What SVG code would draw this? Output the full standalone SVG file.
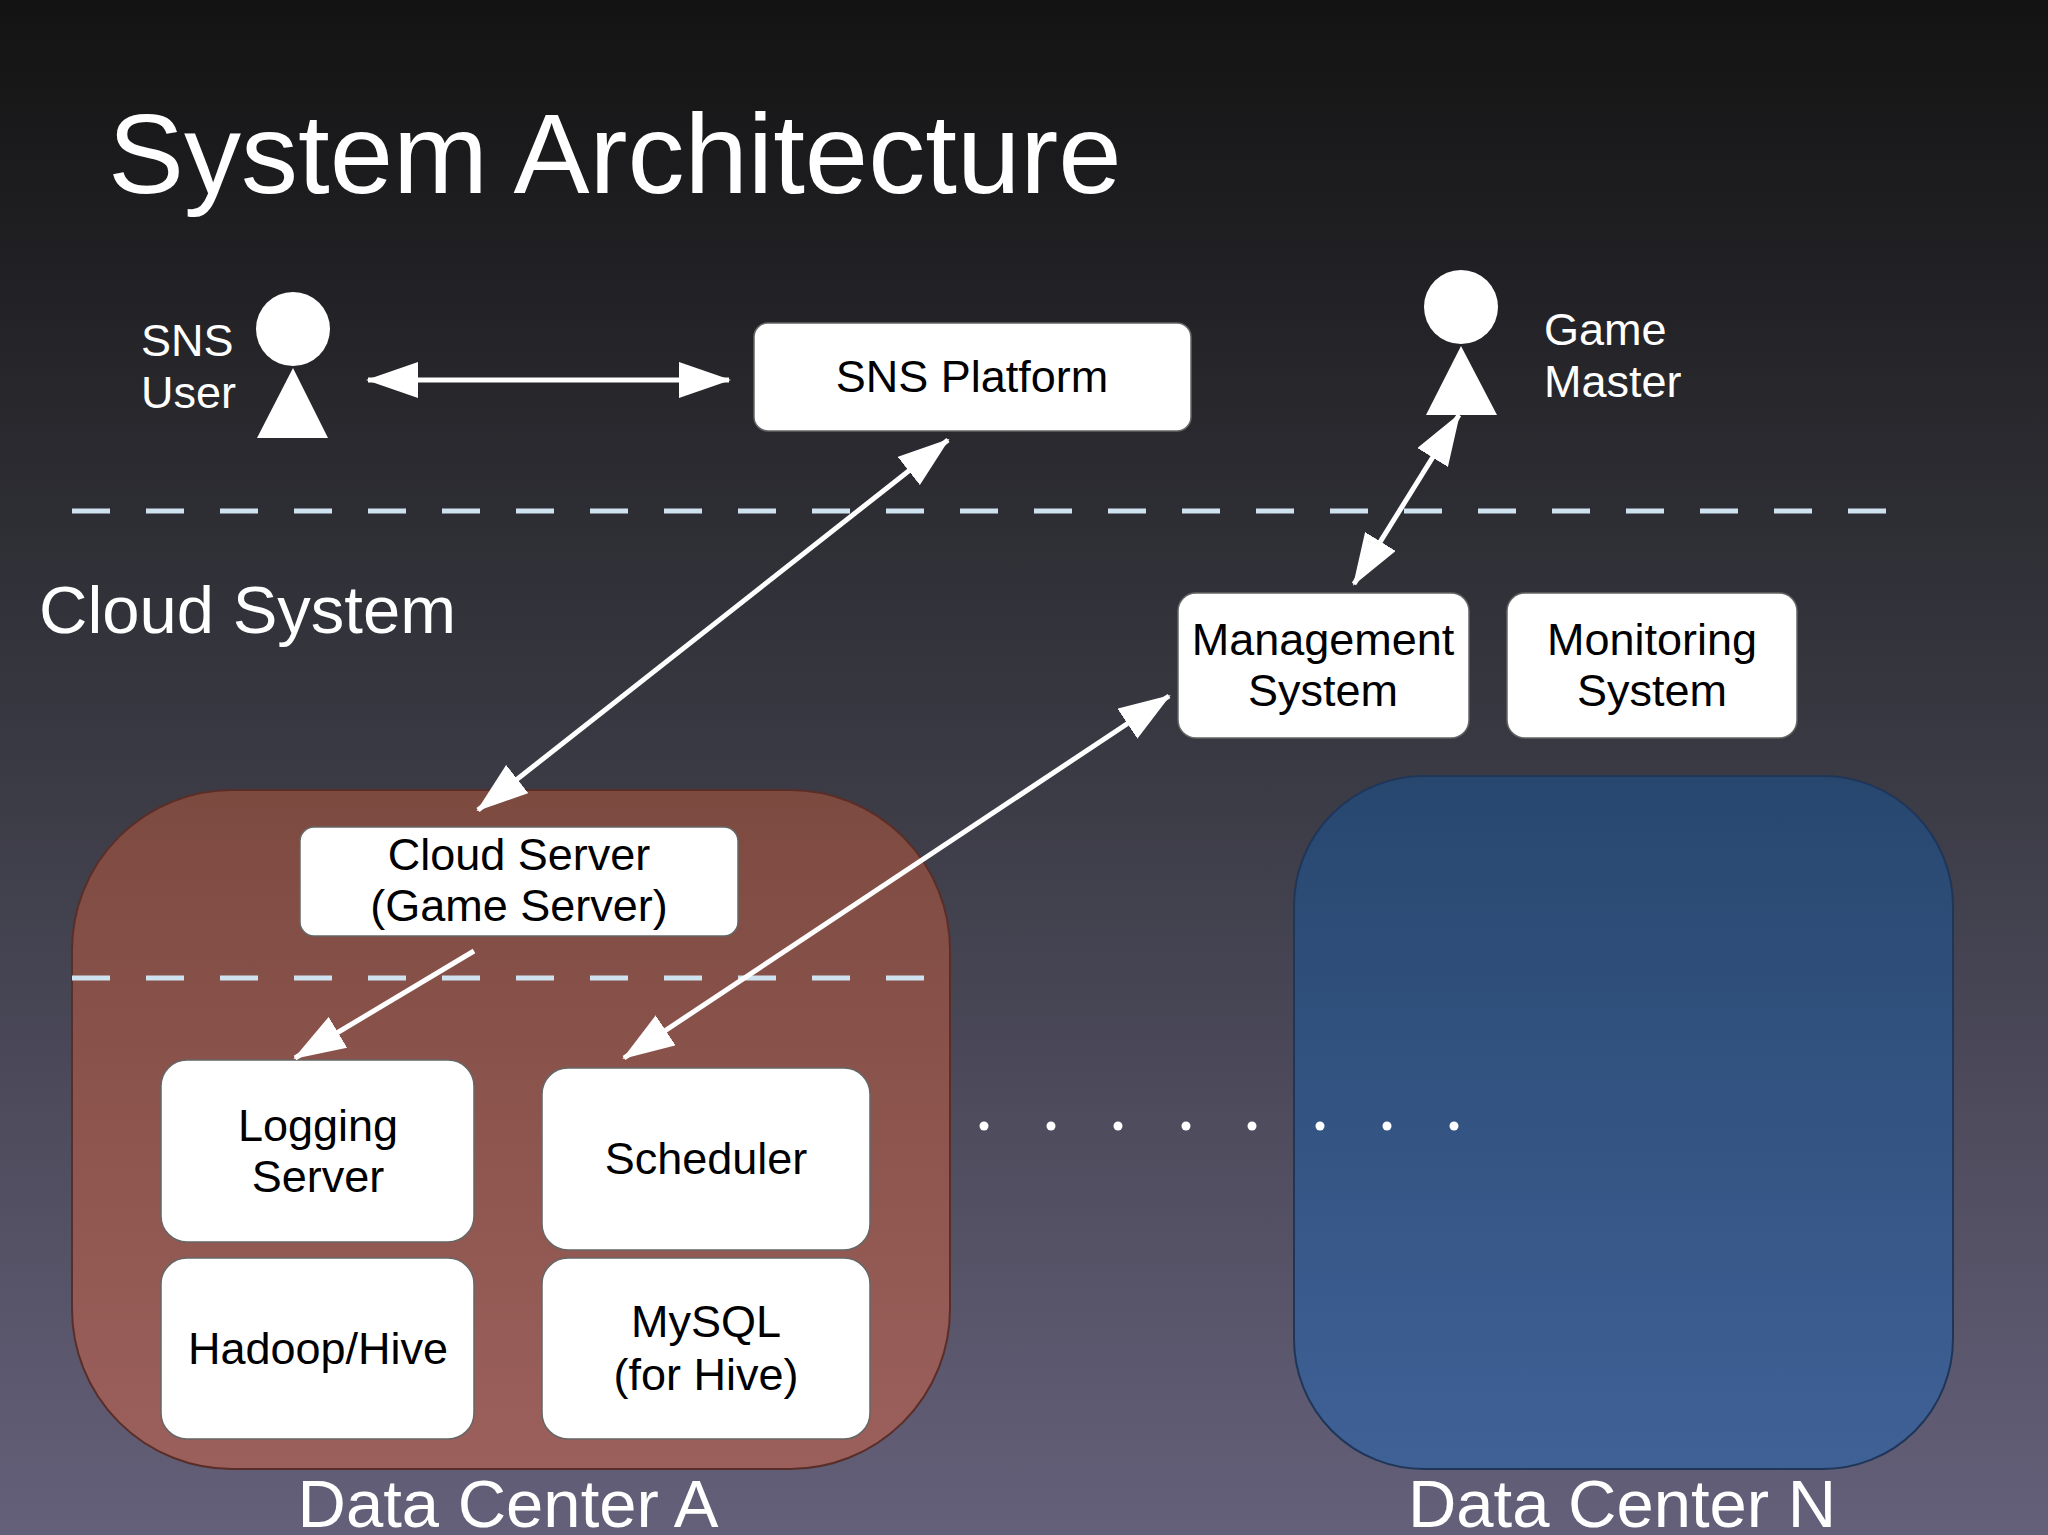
<svg xmlns="http://www.w3.org/2000/svg" width="2048" height="1535" viewBox="0 0 2048 1535">
<defs>
<linearGradient id="bg" x1="0" y1="0" x2="0" y2="1"><stop offset="0" stop-color="#131313"/><stop offset="0.5" stop-color="#3a3a44"/><stop offset="1" stop-color="#65607a"/></linearGradient>
<linearGradient id="dca" x1="0" y1="0" x2="0" y2="1"><stop offset="0" stop-color="#7d4a40"/><stop offset="1" stop-color="#9c605c"/></linearGradient>
<linearGradient id="dcn" x1="0" y1="0" x2="0" y2="1"><stop offset="0" stop-color="#28476f"/><stop offset="1" stop-color="#3f6196"/></linearGradient>
<marker id="ah" markerUnits="userSpaceOnUse" markerWidth="52" markerHeight="36" refX="50" refY="18" orient="auto-start-reverse"><path d="M0,0 L52,18 L0,36 Z" fill="#fff"/></marker>
</defs>
<style>
.t{font-family:"Liberation Sans",Arial,sans-serif;fill:#fff}
.bx{fill:#fff;stroke:#666;stroke-width:1.5}
.bt{font-family:"Liberation Sans",Arial,sans-serif;fill:#000;font-size:45px;text-anchor:middle}
.dash{stroke:#cfe2ef;stroke-width:5;stroke-dasharray:38 36;fill:none}
.ar{stroke:#fff;stroke-width:5;fill:none}
</style>
<rect width="2048" height="1535" fill="url(#bg)"/>
<text class="t" x="108" y="193" font-size="114">System Architecture</text>
<line class="dash" x1="72" y1="511" x2="1912" y2="511"/>
<text class="t" x="39" y="633" font-size="67">Cloud System</text>
<g id="sns-user"><circle cx="293" cy="329" r="37" fill="#fff"/><path d="M257,438 L293,368 L328,438 Z" fill="#fff"/>
<text class="t" x="141" y="356" font-size="45">SNS</text><text class="t" x="141" y="408" font-size="45">User</text></g>
<g id="game-master"><circle cx="1461" cy="307" r="37" fill="#fff"/><path d="M1426,415 L1461,346 L1497,415 Z" fill="#fff"/>
<text class="t" x="1544" y="345" font-size="45">Game</text><text class="t" x="1544" y="397" font-size="45">Master</text></g>
<g id="sns-platform"><rect class="bx" x="754" y="323" width="437" height="108" rx="14"/><text class="bt" x="972" y="392">SNS Platform</text></g>
<g id="management"><rect class="bx" x="1178" y="593" width="291" height="145" rx="18"/><text class="bt" x="1323" y="655">Management</text><text class="bt" x="1323" y="706">System</text></g>
<g id="monitoring"><rect class="bx" x="1507" y="593" width="290" height="145" rx="18"/><text class="bt" x="1652" y="655">Monitoring</text><text class="bt" x="1652" y="706">System</text></g>
<g id="dc-a"><rect x="72" y="790" width="878" height="679" rx="160" fill="url(#dca)" stroke="#5a2e28" stroke-width="2"/>
<text class="t" x="508" y="1527" font-size="67" text-anchor="middle">Data Center A</text></g>
<g id="dc-n"><rect x="1294" y="776" width="659" height="693" rx="130" fill="url(#dcn)" stroke="#1f3658" stroke-width="2"/>
<text class="t" x="1622" y="1527" font-size="67" text-anchor="middle">Data Center N</text></g>
<line class="dash" x1="72" y1="978" x2="931" y2="978"/>
<g id="cloud-server"><rect class="bx" x="300" y="827" width="438" height="109" rx="14"/><text class="bt" x="519" y="870">Cloud Server</text><text class="bt" x="519" y="921">(Game Server)</text></g>
<g id="logging"><rect class="bx" x="161" y="1060" width="313" height="182" rx="26"/><text class="bt" x="318" y="1141">Logging</text><text class="bt" x="318" y="1192">Server</text></g>
<g id="scheduler"><rect class="bx" x="542" y="1068" width="328" height="182" rx="26"/><text class="bt" x="706" y="1174">Scheduler</text></g>
<g id="hadoop"><rect class="bx" x="161" y="1258" width="313" height="181" rx="26"/><text class="bt" x="318" y="1364">Hadoop/Hive</text></g>
<g id="mysql"><rect class="bx" x="542" y="1258" width="328" height="181" rx="26"/><text class="bt" x="706" y="1337">MySQL</text><text class="bt" x="706" y="1390">(for Hive)</text></g>
<g id="dots" fill="#fff"><circle cx="984" cy="1126" r="4.5"/><circle cx="1051" cy="1126" r="4.5"/><circle cx="1118" cy="1126" r="4.5"/><circle cx="1186" cy="1126" r="4.5"/><circle cx="1252" cy="1126" r="4.5"/><circle cx="1320" cy="1126" r="4.5"/><circle cx="1387" cy="1126" r="4.5"/><circle cx="1454" cy="1126" r="4.5"/></g>
<g id="connectors">
<line class="ar" x1="368" y1="380" x2="729" y2="380" marker-start="url(#ah)" marker-end="url(#ah)"/>
<line class="ar" x1="948" y1="440" x2="478" y2="810" marker-start="url(#ah)" marker-end="url(#ah)"/>
<line class="ar" x1="1354" y1="584" x2="1459" y2="415" marker-start="url(#ah)" marker-end="url(#ah)"/>
<line class="ar" x1="1169" y1="696" x2="624" y2="1058" marker-start="url(#ah)" marker-end="url(#ah)"/>
<line class="ar" x1="474" y1="951" x2="295" y2="1058" marker-end="url(#ah)"/>
</g>
</svg>
